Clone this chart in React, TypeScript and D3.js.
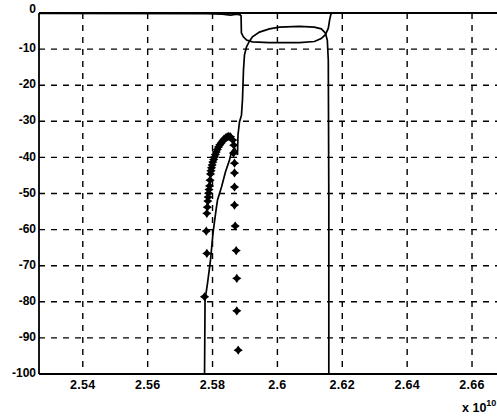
import React from "react";
import * as d3 from "d3";

// ---- data (frequency in units of 1e10 Hz, magnitude in dB) ----
const xTicks = [2.54, 2.56, 2.58, 2.6, 2.62, 2.64, 2.66];
const xTickLabels = ["2.54", "2.56", "2.58", "2.6", "2.62", "2.64", "2.66"];
const yTicks = [0, -10, -20, -30, -40, -50, -60, -70, -80, -90, -100];

// solid curve rising from stopband into the passband (transmission)
const transFreq = [
  2.57754, 2.57769, 2.57846, 2.57938, 2.58015, 2.58108, 2.58154, 2.58277, 2.584,
  2.58523, 2.58585, 2.58677, 2.58738, 2.58769, 2.58785, 2.58831, 2.58892, 2.58923,
  2.58954, 2.58985, 2.59046, 2.59138, 2.59231, 2.59446, 2.59754, 2.60062, 2.60677,
  2.61138, 2.61354, 2.61477, 2.61538, 2.61569, 2.61585, 2.61585,
];
const transDb = [
  -100, -79.5, -74.8, -68.4, -60.9, -54.6, -51.8, -48.2, -44.0,
  -40.7, -38.5, -37.4, -38.5, -39.3, -33.8, -30.2, -28.3, -24.1,
  -15.8, -11.6, -9.4, -7.8, -6.6, -5.3, -4.4, -3.9, -3.7,
  -3.9, -4.4, -5.5, -7.5, -13, -51.8, -100,
];

// solid curve near 0 dB outside the band, about -8 dB inside it
const reflFreq = [
  2.525, 2.578, 2.583, 2.5855, 2.5875, 2.5885, 2.5888, 2.58885, 2.5889, 2.5895,
  2.5905, 2.5923, 2.5975, 2.6068, 2.6114, 2.6135, 2.6148, 2.6157, 2.6161, 2.6165,
  2.6169, 2.67,
];
const reflDb = [
  -0.1, -0.2, -0.3, -0.6, -0.3, -0.5, -0.8, -3.3, -5.5, -6.6,
  -7.5, -8.0, -8.2, -8.2, -7.9, -7.1, -6.0, -4.2, -1.9, -0.3,
  0, 0,
];

// measured points (star markers)
const markerFreq = [
  2.57754, 2.57825, 2.57806, 2.57825, 2.5784, 2.57855, 2.57866, 2.57877, 2.57893,
  2.57908, 2.57923, 2.57938, 2.57954, 2.57969, 2.57989, 2.58009, 2.58035, 2.58062,
  2.58088, 2.58114, 2.5815, 2.58185, 2.58227, 2.58268, 2.58308, 2.58348, 2.584,
  2.58452, 2.58503, 2.58554, 2.58625, 2.58655,
  2.58646, 2.58677, 2.58677, 2.58677, 2.58677, 2.58698, 2.58729, 2.58748, 2.58748,
  2.58791,
];
const markerDb = [
  -78.6, -66.6, -60.4, -55.5, -53.8, -52.1, -51.0, -49.9, -48.9,
  -47.9, -46.3, -44.6, -43.7, -42.9, -42.1, -41.3, -40.6, -39.9,
  -39.2, -38.5, -37.8, -37.1, -36.5, -36.0, -35.5, -35.0, -34.6,
  -34.3, -34.2, -34.3, -35.2, -36.6,
  -38.8, -41.6, -44.3, -48.2, -53.2, -59.0, -65.8, -73.5, -82.5,
  -93.4,
];

const W = 497;
const H = 418;
const L = 39;
const R = 497;
const T = 13;
const B = 374;

function starPath(r: number, w: number): string {
  const p = [
    [0, -r], [w, -w], [r, 0], [w, w], [0, r], [-w, w], [-r, 0], [-w, -w],
  ];
  return "M" + p.map((q) => q.join(",")).join("L") + "Z";
}

export default function App() {
  const x = d3.scaleLinear().domain([2.5265, 2.6677]).range([L, R]);
  const y = d3.scaleLinear().domain([-100, 0]).range([B, T]);

  const line = d3
    .line<[number, number]>()
    .x((d) => x(d[0]))
    .y((d) => y(d[1]));

  const trans = transFreq.map((f, i) => [f, transDb[i]] as [number, number]);
  const refl = reflFreq.map((f, i) => [f, reflDb[i]] as [number, number]);
  const star = starPath(4.6, 1.9);
  const font = "'Liberation Sans', Arial, Helvetica, sans-serif";

  return (
    <div style={{ position: "absolute", left: 0, top: 0 }}>
      <svg width={W} height={H} style={{ display: "block", background: "#fff" }}>
        <defs>
          <clipPath id="plotclip">
            <rect x={L} y={T - 1} width={R - L} height={B - T + 2} />
          </clipPath>
        </defs>
        {/* grid */}
        <g stroke="#000" strokeWidth={1.4} strokeDasharray="6,6">
          {xTicks.map((t) => (
            <line key={"gx" + t} x1={x(t)} x2={x(t)} y1={T} y2={B} />
          ))}
          {yTicks
            .filter((t) => t !== 0 && t !== -100)
            .map((t) => (
              <line key={"gy" + t} x1={L} x2={R} y1={y(t)} y2={y(t)} />
            ))}
        </g>
        {/* axes frame */}
        <g stroke="#000" strokeWidth={1.8} fill="none">
          <line x1={L} x2={R} y1={T} y2={T} />
          <line x1={L} x2={R} y1={B} y2={B} />
          <line x1={L} x2={L} y1={T} y2={B} />
        </g>
        {/* curves */}
        <g clipPath="url(#plotclip)" fill="none" stroke="#000" strokeWidth={1.7}>
          <path d={line(refl) || ""} />
          <path d={line(trans) || ""} />
        </g>
        {/* markers */}
        <g fill="#000">
          {markerFreq.map((f, i) => (
            <path
              key={"m" + i}
              d={star}
              transform={`translate(${x(f)},${y(markerDb[i])})`}
            />
          ))}
        </g>
        {/* y tick labels */}
        <g fontFamily={font} fontSize={12} fontWeight="bold" fill="#000" textAnchor="end">
          {yTicks.map((t) => (
            <text
              key={"yl" + t}
              x={36}
              y={t === 0 ? y(t) - 3 : y(t)}
              dominantBaseline="middle"
            >
              {t}
            </text>
          ))}
        </g>
        {/* x tick labels */}
        <g fontFamily={font} fontSize={12.5} fontWeight="bold" fill="#000" textAnchor="middle" letterSpacing={0.3}>
          {xTicks.map((t, i) => (
            <text key={"xl" + t} x={x(t)} y={389}>
              {xTickLabels[i]}
            </text>
          ))}
        </g>
        {/* exponent */}
        <text x={462} y={412} fontFamily={font} fontSize={12.5} fontWeight="bold" fill="#000">
          x 10
          <tspan dy={-6} fontSize={9}>
            10
          </tspan>
        </text>
      </svg>
    </div>
  );
}
